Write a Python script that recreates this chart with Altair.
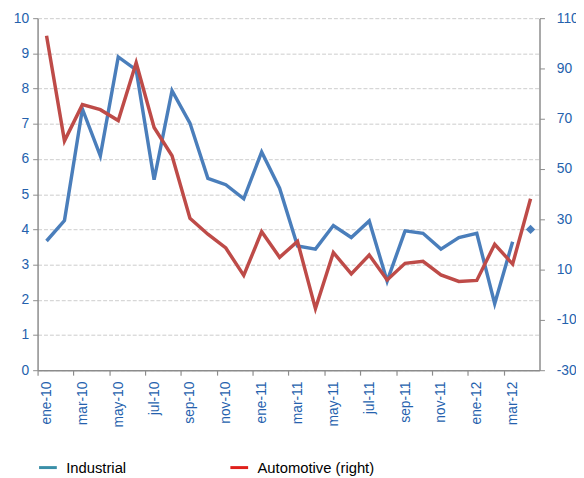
import altair as alt
import pandas as pd

months = ["ene-10", "feb-10", "mar-10", "abr-10", "may-10", "jun-10", "jul-10", "ago-10",
          "sep-10", "oct-10", "nov-10", "dic-10", "ene-11", "feb-11", "mar-11", "abr-11",
          "may-11", "jun-11", "jul-11", "ago-11", "sep-11", "oct-11", "nov-11", "dic-11",
          "ene-12", "feb-12", "mar-12", "abr-12"]
label_months = months[0::2]

industrial = [3.67, 4.25, 7.42, 6.09, 8.90, 8.53, 5.41, 7.94, 7.02, 5.45, 5.27, 4.87, 6.20, 5.17,
              3.53, 3.44, 4.11, 3.77, 4.24, 2.53, 3.96, 3.89, 3.44, 3.77, 3.89, 1.89, 3.65]
industrial_marker_month = ["abr-12"]
industrial_marker_value = [4.0]

automotive = [103.0, 61.2, 75.6, 73.6, 69.3, 92.3, 66.5, 55.3, 30.4, 24.1, 18.6, 7.7, 25.1, 14.9,
              21.2, -5.5, 16.8, 8.3, 15.8, 5.9, 12.5, 13.3, 7.9, 5.3, 5.7, 20.1, 12.2, 38.2]

series_names = ["Industrial", "Automotive (right)"]
legend_colors = ["#3a8fa8", "#e0201b"]

ind_df = pd.DataFrame({"month": months[:len(industrial)], "value": industrial})
ind_pt = pd.DataFrame({"month": industrial_marker_month, "value": industrial_marker_value})
aut_df = pd.DataFrame({"month": months, "value": automotive})
leg_df = pd.DataFrame({"month": months[:2], "value": [0, 0], "series": series_names})

FONT = "Liberation Sans"
LABEL_BLUE = "#2461ad"
AXIS_GRAY = "#8c8c8c"
BLUE = "#4a7ebb"
RED = "#be4b48"
W, H = 509, 357
half = W / len(months) / 2

x_enc = alt.X("month:O", sort=months,
              scale=alt.Scale(type="point", domain=months, padding=0.5),
              axis=alt.Axis(values=label_months, title=None, labelAngle=270,
                            tickOffset=-half, labelOffset=half, labelPadding=6,
                            tickSize=5, tickColor=AXIS_GRAY, domainColor=AXIS_GRAY,
                            domainWidth=1.5, tickWidth=1.2, labelColor=LABEL_BLUE,
                            labelFontSize=14, labelFont=FONT, grid=False))

left_scale = alt.Scale(domain=[0, 10], nice=False)
left_axis = alt.Axis(values=list(range(0, 11)), title=None, grid=True, gridColor="#cccccc",
                     gridDash=[4, 2], gridWidth=1, tickSize=5, tickColor=AXIS_GRAY,
                     domainColor=AXIS_GRAY, domainWidth=1.5, labelColor=LABEL_BLUE,
                     labelFontSize=14, labelFont=FONT, labelPadding=4)

ind_line = alt.Chart(ind_df).mark_line(color=BLUE, strokeWidth=3.5).encode(
    x=x_enc, y=alt.Y("value:Q", scale=left_scale, axis=left_axis))
ind_point = alt.Chart(ind_pt).mark_point(shape="diamond", filled=True, size=90, color=BLUE,
                                         opacity=1).encode(
    x=x_enc, y=alt.Y("value:Q", scale=left_scale, axis=left_axis))
leg_layer = alt.Chart(leg_df).mark_line(opacity=0).encode(
    x=x_enc, y=alt.Y("value:Q", scale=left_scale, axis=left_axis),
    stroke=alt.Stroke("series:N", sort=series_names,
                      scale=alt.Scale(domain=series_names, range=legend_colors),
                      legend=alt.Legend(title=None, orient="none", direction="horizontal",
                                        legendX=0, legendY=445, symbolType="stroke",
                                        symbolSize=324, symbolStrokeWidth=3,
                                        symbolOpacity=1, labelFontSize=15,
                                        labelFont=FONT, labelColor="#000000",
                                        labelOffset=8, columnPadding=99)))

left = alt.layer(ind_line, ind_point, leg_layer)

right = alt.Chart(aut_df).mark_line(color=RED, strokeWidth=3.5).encode(
    x=x_enc,
    y=alt.Y("value:Q", scale=alt.Scale(domain=[-30, 110], nice=False),
            axis=alt.Axis(orient="right", values=list(range(-30, 111, 20)), title=None,
                          labelExpr="'' + datum.value",
                          grid=False, tickSize=5, tickColor=AXIS_GRAY, domainColor=AXIS_GRAY,
                          domainWidth=1.5, labelColor=LABEL_BLUE, labelFontSize=14,
                          labelFont=FONT, labelPadding=12)))

chart = alt.layer(left, right).resolve_scale(y="independent").properties(
    width=W, height=H,
    autosize=alt.AutoSizeParams(type="none"),
    padding={"left": 30, "top": 7, "right": 37, "bottom": 106},
    background="white",
).configure_view(stroke=None)

chart.save("out.html", embed_options={"renderer": "svg", "actions": False})
